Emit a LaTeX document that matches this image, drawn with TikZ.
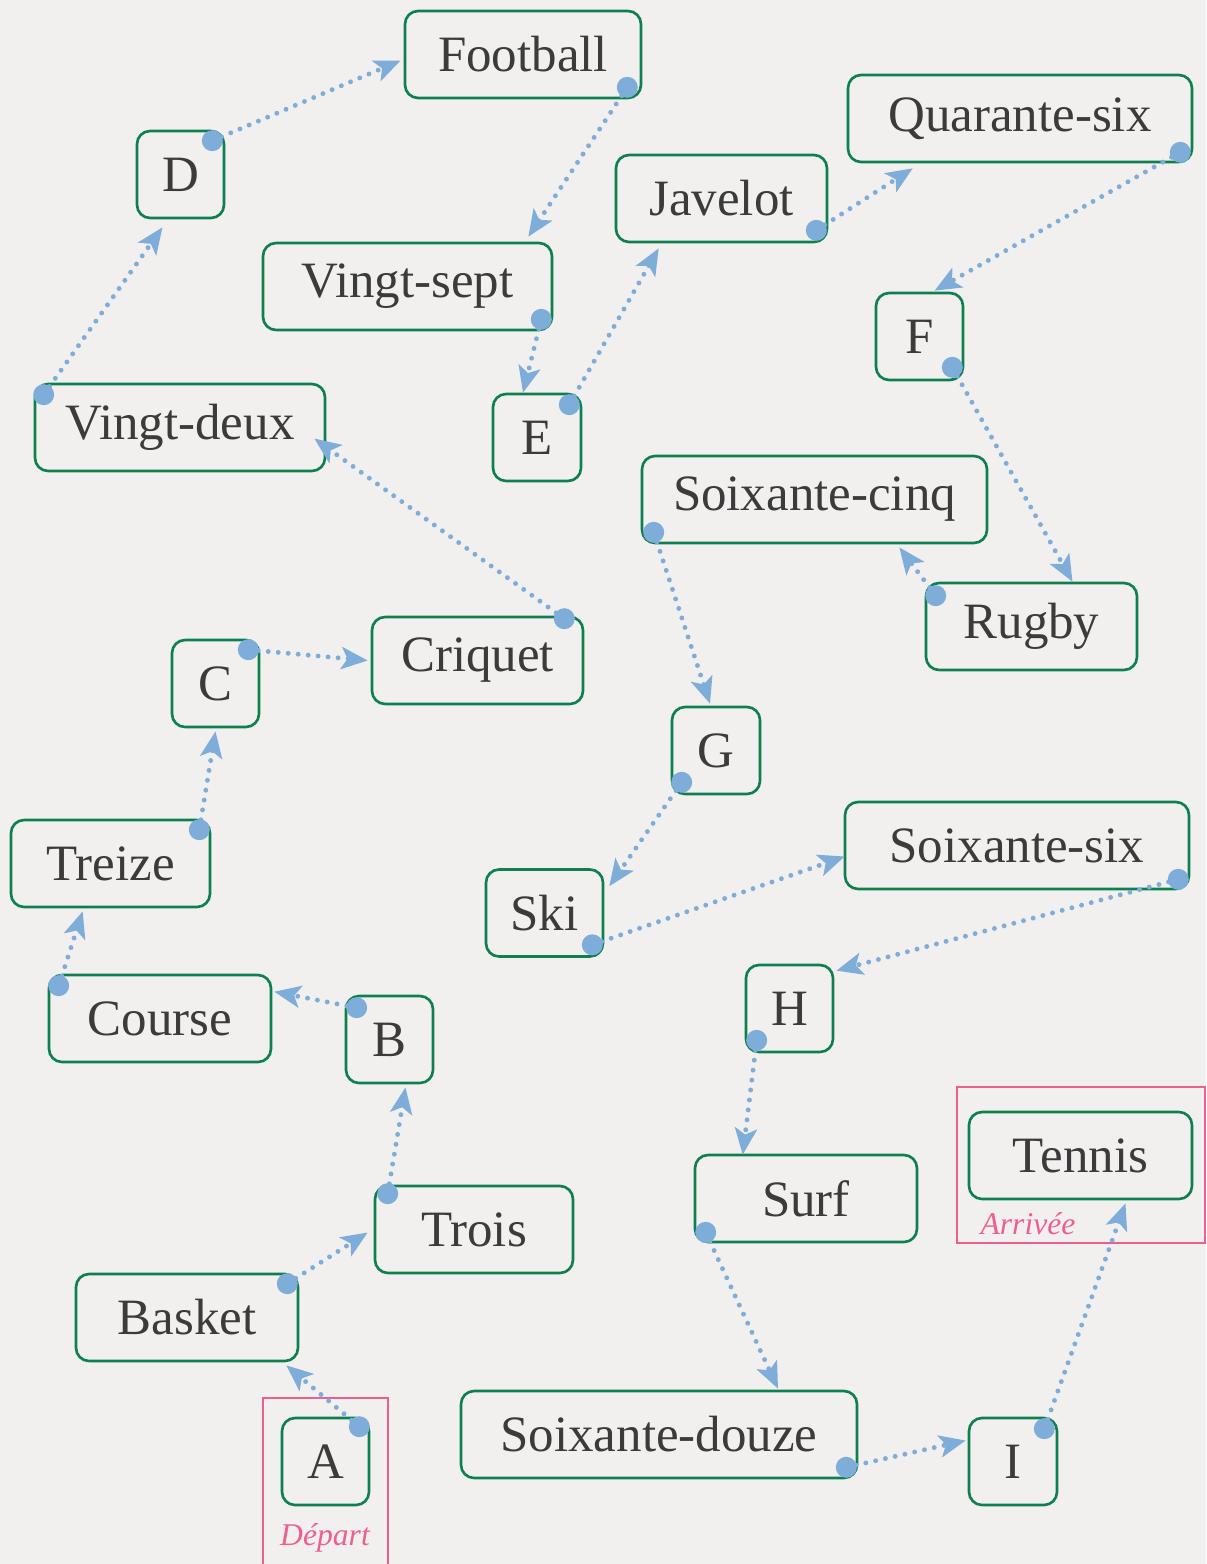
\documentclass[tikz,border=0pt]{standalone}
\usepackage{fontspec}
\setmainfont{Liberation Serif}
\usetikzlibrary{arrows.meta}
\definecolor{paper}{HTML}{F2F0EE}
\definecolor{boxgreen}{HTML}{0E8050}
\definecolor{ink}{HTML}{3B3B3B}
\definecolor{linkblue}{HTML}{7FADDA}
\definecolor{zonepink}{HTML}{EC5F93}
\tikzset{
  box/.style={draw=boxgreen, line width=1.5pt, rounded corners=0.26cm, text=ink,
    font=\fontsize{29}{34}\selectfont, minimum height=1.74cm, inner sep=0pt},
  link/.style={draw=linkblue, line width=2.8pt, line cap=round, dash pattern=on 0pt off 5.7pt,
    -{Stealth[length=15pt, width=12.5pt, inset=3.5pt, fill=linkblue]}},
  dot/.style={fill=linkblue},
  zone/.style={draw=zonepink, line width=1.1pt},
  zonelabel/.style={text=zonepink, font=\fontsize{18}{20}\selectfont\itshape}
}
\begin{document}
\begin{tikzpicture}[x=0.02cm, y=-0.02cm]
\fill[paper] (0,0) rectangle (1206,1564);
\useasboundingbox (0,0) rectangle (1206,1564);
\draw[zone] (263,1398) rectangle (388,1570);
\node[zonelabel] (depart) at (325,1538) {Départ};
\draw[zone] (957,1087) rectangle (1205,1243);
\node[zonelabel] (arrivee) at (1028,1224) {Arrivée};
\node[box, minimum width=4.72cm] (football) at (523,54.5) {Football};
\node[box, minimum width=1.74cm] (d) at (180.5,174.5) {D};
\node[box, minimum width=6.88cm] (quarantesix) at (1020,118.5) {Quarante-six};
\node[box, minimum width=4.22cm] (javelot) at (721.5,198.5) {Javelot};
\node[box, minimum width=5.78cm] (vingtsept) at (407.5,286.5) {Vingt-sept};
\node[box, minimum width=1.74cm] (f) at (919.5,336.5) {F};
\node[box, minimum width=5.80cm] (vingtdeux) at (180,427.5) {Vingt-deux};
\node[box, minimum width=1.76cm] (e) at (537,437.5) {E};
\node[box, minimum width=6.90cm] (soixantecinq) at (814.5,499.5) {Soixante-cinq};
\node[box, minimum width=4.22cm] (rugby) at (1031.5,626.5) {Rugby};
\node[box, minimum width=4.22cm] (criquet) at (477.5,660.5) {Criquet};
\node[box, minimum width=1.74cm] (c) at (215.5,683.5) {C};
\node[box, minimum width=1.76cm] (g) at (716,750.5) {G};
\node[box, minimum width=6.88cm] (soixantesix) at (1017,845.5) {Soixante-six};
\node[box, minimum width=3.98cm] (treize) at (110.5,863.5) {Treize};
\node[box, minimum width=2.34cm] (ski) at (544.5,913) {Ski};
\node[box, minimum width=1.74cm] (h) at (789.5,1008.5) {H};
\node[box, minimum width=4.44cm] (course) at (160,1018.5) {Course};
\node[box, minimum width=1.74cm] (b) at (389.5,1039.5) {B};
\node[box, minimum width=4.46cm] (tennis) at (1080.5,1155.5) {Tennis};
\node[box, minimum width=4.44cm] (surf) at (806,1198.5) {Surf};
\node[box, minimum width=3.96cm] (trois) at (474,1229.5) {Trois};
\node[box, minimum width=4.44cm] (basket) at (187,1317.5) {Basket};
\node[box, minimum width=7.92cm] (soixantedouze) at (659,1434.5) {Soixante-douze};
\node[box, minimum width=1.74cm] (a) at (325.5,1461.5) {A};
\node[box, minimum width=1.76cm] (i) at (1013,1461.5) {I};
\fill[dot] ([shift={(-11,10)}]a.north east) circle (0.21cm);
\draw[link] ([shift={(-11,10)}]a.north east) -- ([shift={(-13,3)}]basket.south east);
\fill[dot] ([shift={(-12,11)}]basket.north east) circle (0.21cm);
\draw[link] ([shift={(-12,11)}]basket.north east) -- ([shift={(-6,3)}]trois.west);
\fill[dot] ([shift={(14,9)}]trois.north west) circle (0.21cm);
\draw[link] ([shift={(14,9)}]trois.north west) -- ([shift={(16,3)}]b.south);
\fill[dot] ([shift={(12,13)}]b.north west) circle (0.21cm);
\draw[link] ([shift={(12,13)}]b.north west) -- ([shift={(2,18)}]course.north east);
\fill[dot] ([shift={(11,12)}]course.north west) circle (0.21cm);
\draw[link] ([shift={(11,12)}]course.north west) -- ([shift={(73,3)}]treize.south west);
\fill[dot] ([shift={(-12,11)}]treize.north east) circle (0.21cm);
\draw[link] ([shift={(-12,11)}]treize.north east) -- ([shift={(0,3)}]c.south);
\fill[dot] ([shift={(-12,11)}]c.north east) circle (0.21cm);
\draw[link] ([shift={(-12,11)}]c.north east) -- ([shift={(-3,0)}]criquet.west);
\fill[dot] ([shift={(-20,3)}]criquet.north east) circle (0.21cm);
\draw[link] ([shift={(-20,3)}]criquet.north east) -- ([shift={(-12,11)}]vingtdeux.east);
\fill[dot] ([shift={(10,12)}]vingtdeux.north west) circle (0.21cm);
\draw[link] ([shift={(10,12)}]vingtdeux.north west) -- ([shift={(-18,8)}]d.south);
\fill[dot] ([shift={(-13,11)}]d.north east) circle (0.21cm);
\draw[link] ([shift={(-13,11)}]d.north east) -- ([shift={(-3,6)}]football.west);
\fill[dot] ([shift={(-15,-12)}]football.south east) circle (0.21cm);
\draw[link] ([shift={(-15,-12)}]football.south east) -- ([shift={(-25,-5)}]vingtsept.north east);
\fill[dot] ([shift={(-12,-12)}]vingtsept.south east) circle (0.21cm);
\draw[link] ([shift={(-12,-12)}]vingtsept.south east) -- ([shift={(-14,0)}]e.north);
\fill[dot] ([shift={(-13,12)}]e.north east) circle (0.21cm);
\draw[link] ([shift={(-13,12)}]e.north east) -- ([shift={(44,5)}]javelot.south west);
\fill[dot] ([shift={(-12,-13)}]javelot.south east) circle (0.21cm);
\draw[link] ([shift={(-12,-13)}]javelot.south east) -- ([shift={(66,5)}]quarantesix.south west);
\fill[dot] ([shift={(-13,-11)}]quarantesix.south east) circle (0.21cm);
\draw[link] ([shift={(-13,-11)}]quarantesix.south east) -- ([shift={(15,-1)}]f.north);
\fill[dot] ([shift={(-12,-14)}]f.south east) circle (0.21cm);
\draw[link] ([shift={(-12,-14)}]f.south east) -- ([shift={(41,0)}]rugby.north);
\fill[dot] ([shift={(11,14)}]rugby.north west) circle (0.21cm);
\draw[link] ([shift={(11,14)}]rugby.north west) -- ([shift={(-89,3)}]soixantecinq.south east);
\fill[dot] ([shift={(13,-12)}]soixantecinq.south west) circle (0.21cm);
\draw[link] ([shift={(13,-12)}]soixantecinq.south west) -- ([shift={(-6,-2)}]g.north);
\fill[dot] ([shift={(11,-13)}]g.south west) circle (0.21cm);
\draw[link] ([shift={(11,-13)}]g.south west) -- ([shift={(5,18)}]ski.north east);
\fill[dot] ([shift={(-12,-13)}]ski.south east) circle (0.21cm);
\draw[link] ([shift={(-12,-13)}]ski.south east) -- ([shift={(1,11)}]soixantesix.west);
\fill[dot] ([shift={(-12,-11)}]soixantesix.south east) circle (0.21cm);
\draw[link] ([shift={(-12,-11)}]soixantesix.south east) -- ([shift={(2,7)}]h.north east);
\fill[dot] ([shift={(12,-13)}]h.south west) circle (0.21cm);
\draw[link] ([shift={(12,-13)}]h.south west) -- ([shift={(49,1)}]surf.north west);
\fill[dot] ([shift={(12,-11)}]surf.south west) circle (0.21cm);
\draw[link] ([shift={(12,-11)}]surf.south west) -- ([shift={(119,-1)}]soixantedouze.north);
\fill[dot] ([shift={(-12,-12)}]soixantedouze.south east) circle (0.21cm);
\draw[link] ([shift={(-12,-12)}]soixantedouze.south east) -- ([shift={(-2,-21)}]i.west);
\fill[dot] ([shift={(-14,12)}]i.north east) circle (0.21cm);
\draw[link] ([shift={(-14,12)}]i.north east) -- ([shift={(45,3)}]tennis.south);
\end{tikzpicture}
\end{document}
